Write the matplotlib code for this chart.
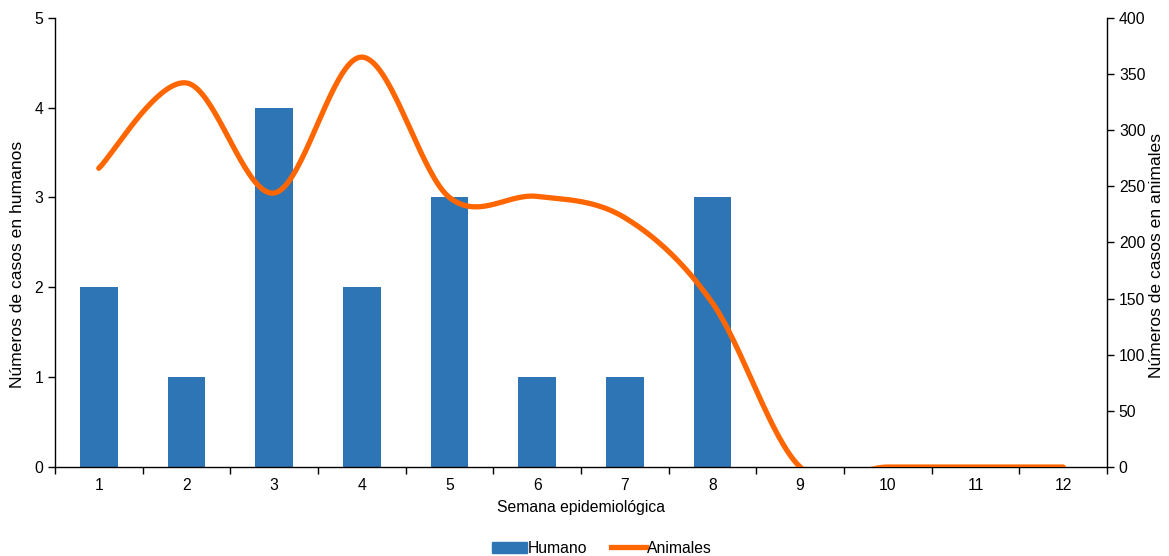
import numpy as np
import matplotlib.pyplot as plt
from matplotlib.patches import Patch
from matplotlib.lines import Line2D

plt.rcParams['font.family'] = ['Liberation Sans', 'DejaVu Sans']

# Datos
semanas = [1, 2, 3, 4, 5, 6, 7, 8, 9, 10, 11, 12]
humanos = [2, 1, 4, 2, 3, 1, 1, 3, 0, 0, 0, 0]
animales = [266, 342, 244, 365, 240, 241, 222, 146, 0, 0, 0, 0]

BAR_COLOR = "#2E75B6"
LINE_COLOR = "#FF6600"
FS = 11.3


def excel_smooth(x, y, n=40):
    # curva suavizada estilo Excel (Bezier con tangentes tipo Catmull-Rom)
    x = np.asarray(x, float)
    y = np.asarray(y, float)
    px = np.concatenate([[x[0]], x, [x[-1]]])
    py = np.concatenate([[y[0]], y, [y[-1]]])
    xs, ys = [], []
    t = np.linspace(0, 1, n)
    for i in range(1, len(px) - 2):
        p0 = np.array([px[i], py[i]])
        p3 = np.array([px[i + 1], py[i + 1]])
        p1 = p0 + (np.array([px[i + 1], py[i + 1]]) - np.array([px[i - 1], py[i - 1]])) / 6
        p2 = p3 - (np.array([px[i + 2], py[i + 2]]) - np.array([px[i], py[i]])) / 6
        b = ((1 - t) ** 3)[:, None] * p0 + (3 * (1 - t) ** 2 * t)[:, None] * p1 \
            + (3 * (1 - t) * t ** 2)[:, None] * p2 + (t ** 3)[:, None] * p3
        xs.extend(b[:, 0])
        ys.extend(b[:, 1])
    return np.array(xs), np.array(ys)


fig = plt.figure(figsize=(11.69, 5.56), dpi=100)
ax = fig.add_axes([0.047, 0.160, 0.900, 0.808])
ax2 = ax.twinx()

ax.bar(semanas, humanos, width=0.43, color=BAR_COLOR, zorder=2)
sx, sy = excel_smooth(semanas, animales)
ax2.plot(sx, sy, color=LINE_COLOR, linewidth=3.8, solid_capstyle="round", zorder=3)

ax.set_xlim(0.5, 12.5)
ax.set_ylim(0, 5)
ax2.set_ylim(0, 400)
ax.set_yticks([0, 1, 2, 3, 4, 5])
ax2.set_yticks(range(0, 401, 50))

ax.set_xticks(semanas)
ax.set_xticklabels([str(s) for s in semanas])
ax.tick_params(axis="x", length=0, labelsize=FS, pad=8)
ax.set_xticks(np.arange(0.5, 13, 1), minor=True)
ax.tick_params(axis="x", which="minor", length=5, direction="out", width=1)
ax.tick_params(axis="y", length=5, direction="out", labelsize=FS, width=1)
ax2.tick_params(axis="y", length=5, direction="out", labelsize=FS, width=1)

for a in (ax, ax2):
    a.spines["top"].set_visible(False)
    for s in ("left", "right", "bottom"):
        a.spines[s].set_color("black")
        a.spines[s].set_linewidth(1)
ax.spines["right"].set_visible(False)
ax2.spines["left"].set_visible(False)
ax2.spines["bottom"].set_visible(False)
ax.set_zorder(ax2.get_zorder() - 1)
ax.patch.set_visible(False)

ax.set_xlabel("Semana epidemiológica", fontsize=FS, labelpad=5)
ax.set_ylabel("Números de casos en humanos", fontsize=12.6)
ax.yaxis.set_label_coords(-0.028, 0.452)
ax2.set_ylabel("Números de casos en animales", fontsize=12.6)
ax2.yaxis.set_label_coords(1.040, 0.47)

handles = [Patch(facecolor=BAR_COLOR, edgecolor=BAR_COLOR),
           Line2D([0], [0], color=LINE_COLOR, linewidth=3.8)]
fig.legend(handles, ["Humano", "Animales"], loc="lower center",
           bbox_to_anchor=(0.515, -0.025), ncol=2, frameon=False, fontsize=FS,
           handlelength=2.2, handletextpad=0.1, columnspacing=1.5)

fig.savefig("out.png", dpi=100)
